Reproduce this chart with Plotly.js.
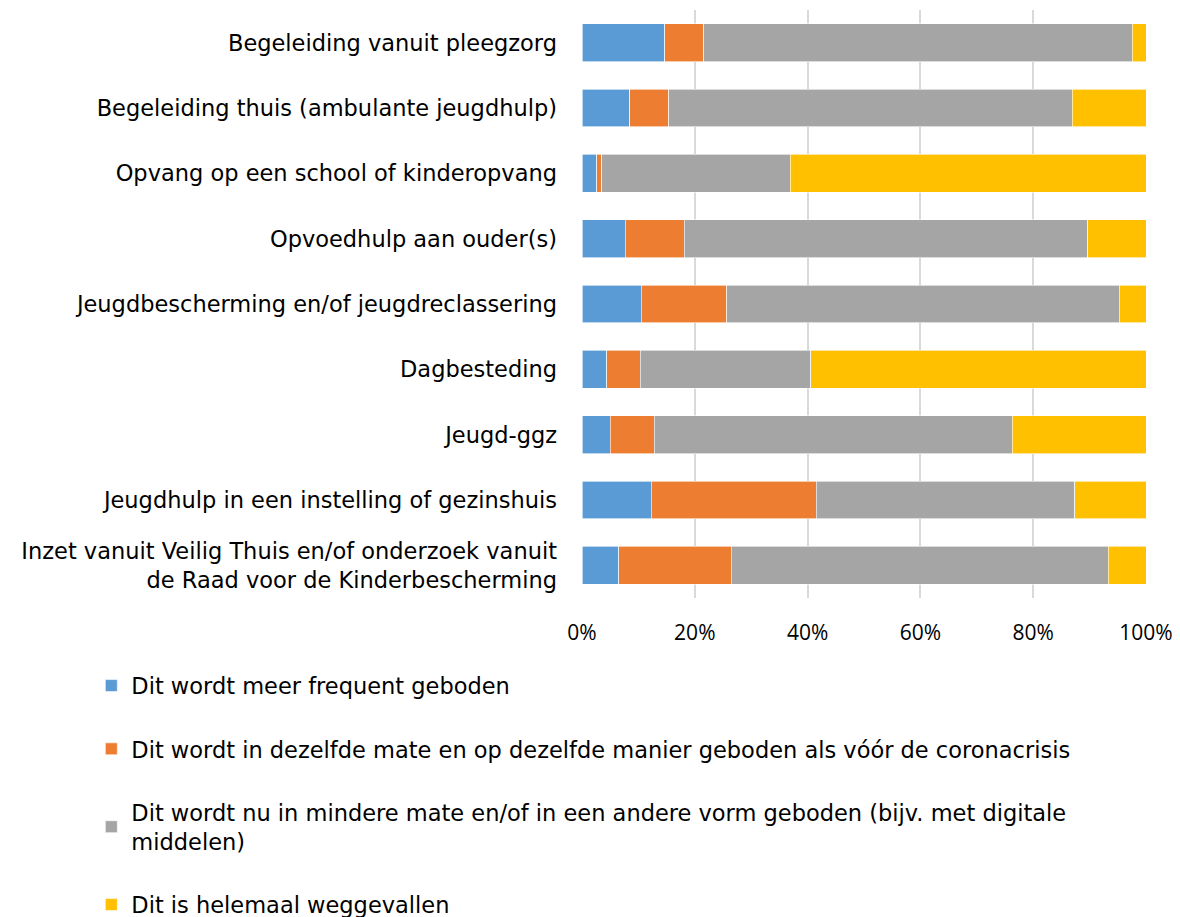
<!DOCTYPE html>
<html>
<head>
<meta charset="utf-8">
<script src="https://cdn.plot.ly/plotly-3.0.1.min.js"></script>
<style>html,body{margin:0;padding:0;background:#fff;}#chart{width:1180px;height:917px;}</style>
</head>
<body>
<div id="chart"></div>
<script>
const categories = [
  "Begeleiding vanuit pleegzorg",
  "Begeleiding thuis (ambulante jeugdhulp)",
  "Opvang op een school of kinderopvang",
  "Opvoedhulp aan ouder(s)",
  "Jeugdbescherming en/of jeugdreclassering",
  "Dagbesteding",
  "Jeugd-ggz",
  "Jeugdhulp in een instelling of gezinshuis",
  "Inzet vanuit Veilig Thuis en/of onderzoek vanuit<br>de Raad voor de Kinderbescherming"
];
const seriesNames = [
  "Dit wordt meer frequent geboden",
  "Dit wordt in dezelfde mate en op dezelfde manier geboden als vóór de coronacrisis",
  "Dit wordt nu in mindere mate en/of in een andere vorm geboden (bijv. met digitale<br>middelen)",
  "Dit is helemaal weggevallen"
];
const meerFrequent = [14.7, 8.5, 2.6, 7.7, 10.5, 4.4, 5.0, 12.3, 6.5];
const dezelfdeMate = [6.9, 6.9, 0.9, 10.4, 15.2, 5.9, 7.8, 29.2, 20.0];
const mindereMate  = [76.0, 71.5, 33.4, 71.6, 69.6, 30.3, 63.5, 45.9, 66.8];
const weggevallen  = [2.4, 13.1, 63.1, 10.3, 4.7, 59.4, 23.7, 12.6, 6.7];
const tickValues = [0, 20, 40, 60, 80, 100];
const tickLabels = ["0%", "20%", "40%", "60%", "80%", "100%"];

const colors = ["#5B9BD5", "#ED7D31", "#A5A5A5", "#FFC000"];
const seriesValues = [meerFrequent, dezelfdeMate, mindereMate, weggevallen];

const traces = seriesValues.map((vals, i) => ({
  type: "bar",
  orientation: "h",
  name: seriesNames[i],
  x: vals,
  y: categories,
  legendgroup: "g" + i,
  marker: {color: colors[i], line: {color: "rgba(255,255,255,0.8)", width: 0.75}},
  hoverinfo: "x+name"
}));

const layout = {
  width: 1180,
  height: 917,
  barmode: "stack",
  bargap: 0.42,
  paper_bgcolor: "#fff",
  plot_bgcolor: "#fff",
  margin: {l: 582, r: 34, t: 10, b: 319, autoexpand: false},
  font: {family: "DejaVu Sans, sans-serif", size: 22, color: "#000"},
  xaxis: {
    range: [0, 100],
    tickmode: "array",
    tickvals: tickValues,
    ticktext: tickLabels,
    showgrid: true,
    gridcolor: "#D9D9D9",
    gridwidth: 2,
    zeroline: false,
    showline: false,
    ticks: "",
    ticklabelstandoff: 20,
    tickfont: {family: "Open Sans, sans-serif", size: 21, color: "#000"},
    fixedrange: true
  },
  yaxis: {
    autorange: "reversed",
    showgrid: false,
    showline: false,
    ticks: "",
    ticklabelstandoff: 24,
    tickfont: {family: "DejaVu Sans, sans-serif", size: 22.5, color: "#000"},
    fixedrange: true
  },
  showlegend: true,
  legend: {
    orientation: "v",
    x: -0.87,
    xanchor: "left",
    y: -0.113,
    yanchor: "top",
    traceorder: "grouped",
    tracegroupgap: 31,
    font: {family: "DejaVu Sans, sans-serif", size: 22.5, color: "#000"},
    itemwidth: 30
  }
};

Plotly.newPlot("chart", traces, layout, {displayModeBar: false, staticPlot: true});
</script>
</body>
</html>
